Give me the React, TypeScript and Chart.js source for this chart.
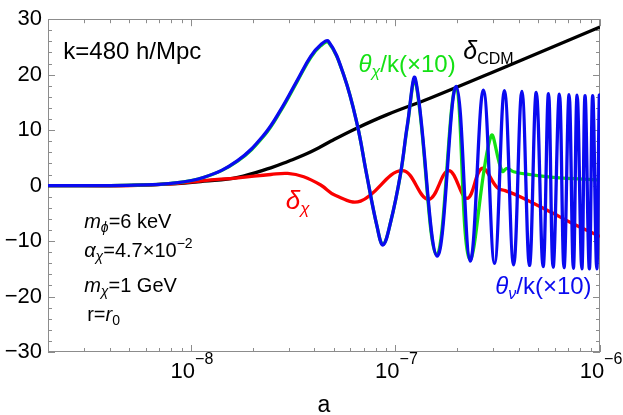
import React, { useEffect, useRef } from "react";
import { Chart, registerables } from "chart.js";
Chart.register(...registerables);

// theta_nu / k (x10)  -- blue
const aBlue = [
  2e-9, 3.64e-9, 5.27e-9, 7.99e-9, 1.16e-8, 1.69e-8, 2.28e-8, 2.75e-8, 3.31e-8, 3.85e-8,
  4.31e-8, 4.71e-8, 5.6e-8, 6.5e-8, 7.22e-8, 8.14e-8, 8.69e-8, 9.45e-8, 1.058e-7, 1.144e-7, 1.252e-7,
  1.6e-7, 1.98e-7, 2.32e-7, 2.69e-7, 3.05e-7, 3.41e-7, 3.78e-7, 4.15e-7, 4.52e-7, 4.88e-7,
  5.27e-7, 5.6e-7, 5.9e-7, 6.33e-7, 6.67e-7, 7.06e-7, 7.41e-7, 7.73e-7, 8.15e-7, 8.45e-7,
  8.87e-7, 9.21e-7, 9.64e-7, 9.92e-7, 1e-6,
];
const thetaNu = [
  0, 0, 0.1, 0.4, 1.5, 4.5, 9.2, 13.7, 19.0, 23.3,
  25.4, 26.0, 19.8, 11, 2.1, -7.5, -10.7, -6.7, 2.1, 11, 19.2,
  -12.7, 17.9, -13.6, 17.2, -14.0, 17.1, -14.3, 17.0, -14.4, 16.8,
  -14.6, 16.6, -14.7, 16.5, -14.8, 16.4, -14.9, 16.3, -15.0, 16.2,
  -15.0, 16.2, -15.0, 16.1, 12.5,
];

// theta_chi / k (x10)  -- green
const aGreen = [
  2e-9, 3.64e-9, 5.27e-9, 7.99e-9, 1.16e-8, 1.69e-8, 2.28e-8, 2.75e-8, 3.31e-8, 3.85e-8,
  4.31e-8, 4.71e-8, 5.6e-8, 6.5e-8, 7.22e-8, 8.14e-8, 8.69e-8, 9.45e-8, 1.058e-7, 1.144e-7, 1.252e-7,
  1.59e-7, 1.97e-7, 2.3e-7, 2.93e-7, 3.32e-7, 3.52e-7, 3.78e-7, 4.73e-7, 5.9e-7, 1e-6,
];
const thetaChi = [
  0, 0, 0.1, 0.4, 1.5, 4.4, 9.0, 13.5, 18.8, 23.1,
  25.2, 25.8, 19.8, 11, 2.1, -7.5, -10.6, -6.7, 2.0, 10.8, 18.9,
  -12.5, 17.6, -13.2, 8.9, 2.6, 3.1, 2.5, 1.9, 1.5, 1.0,
];

// delta_chi  -- red
const aRed = [
  2e-9, 5.1e-9, 7.99e-9, 1.157e-8, 1.695e-8, 2.456e-8, 2.97e-8, 3.56e-8, 4.31e-8, 5.1e-8,
  6.75e-8, 1.078e-7, 1.449e-7, 1.82e-7, 2.24e-7, 2.65e-7, 3.15e-7, 3.44e-7, 4.07e-7, 5.9e-7,
  7.14e-7, 1e-6,
];
const deltaChi = [
  0, 0, 0.3, 0.9, 1.4, 2.0, 2.2, 1.6, 0.1, -1.8,
  -2.8, 2.7, -2.5, 2.7, -2.3, 3.1, -0.4, -0.9, -2.0, -5.0,
  -6.6, -9.2,
];

// delta_CDM  -- black
const aBlack = [
  2e-9, 5.1e-9, 7.99e-9, 1.157e-8, 1.695e-8, 2.456e-8, 3.0e-8, 3.56e-8, 4.31e-8, 4.82e-8,
  6.5e-8, 9.11e-8, 1.483e-7, 3.44e-7, 1e-6,
];
const deltaCDM = [
  0, 0.05, 0.3, 0.8, 1.5, 3.2, 4.4, 5.5, 7.0, 8.0,
  10.4, 12.8, 15.8, 21.4, 28.6,
];

const xMajorTicks = [1e-8, 1e-7, 1e-6];
const xTickBase = ["10", "10", "10"];
const xTickExp = ["−8", "−7", "−6"];
const xMinorTicks = [
  2e-9, 3e-9, 4e-9, 5e-9, 6e-9, 7e-9, 8e-9, 9e-9,
  2e-8, 3e-8, 4e-8, 5e-8, 6e-8, 7e-8, 8e-8, 9e-8,
  2e-7, 3e-7, 4e-7, 5e-7, 6e-7, 7e-7, 8e-7, 9e-7,
];
const yMajorTicks = [-30, -20, -10, 0, 10, 20, 30];
const yTickLabels = ["−30", "−20", "−10", "0", "10", "20", "30"];
const yMinorTicks = [
  -28, -26, -24, -22, -18, -16, -14, -12, -8, -6, -4, -2,
  2, 4, 6, 8, 12, 14, 16, 18, 22, 24, 26, 28,
];
const xTitle = "a";

const FONT = "'Liberation Sans', Arial, sans-serif";
const BLUE = "rgb(10,10,240)";
const GREEN = "rgb(20,225,20)";
const RED = "rgb(250,0,0)";
const BLACK = "rgb(0,0,0)";
const FRAME = "rgb(140,140,140)";

type Seg = { t: string; size: number; italic?: boolean; dy?: number };
type Label = { a: number; v: number; color: string; segs: Seg[] };

const labels: Label[] = [
  { a: 2.375e-9, v: 22.9, color: BLACK, segs: [{ t: "k=480 h/Mpc", size: 24 }] },
  {
    a: 3.006e-9, v: -7.6, color: BLACK,
    segs: [{ t: "m", size: 20, italic: true }, { t: "ϕ", size: 14, italic: true, dy: 4 }, { t: "=6 keV", size: 20 }],
  },
  {
    a: 3.006e-9, v: -12.9, color: BLACK,
    segs: [
      { t: "α", size: 20, italic: true }, { t: "χ", size: 14, italic: true, dy: 4 },
      { t: "=4.7×10", size: 20 }, { t: "−2", size: 14, dy: -9 },
    ],
  },
  {
    a: 3.006e-9, v: -19.2, color: BLACK,
    segs: [{ t: "m", size: 20, italic: true }, { t: "χ", size: 14, italic: true, dy: 4 }, { t: "=1 GeV", size: 20 }],
  },
  {
    a: 3.11e-9, v: -24.5, color: BLACK,
    segs: [{ t: "r=", size: 20 }, { t: "r", size: 20, italic: true }, { t: "0", size: 14, dy: 4 }],
  },
  {
    a: 6.6e-8, v: 20.5, color: GREEN,
    segs: [{ t: "θ", size: 24, italic: true }, { t: "χ", size: 16, italic: true, dy: 5 }, { t: "/k(×10)", size: 24 }],
  },
  {
    a: 2.146e-7, v: 22.8, color: BLACK,
    segs: [{ t: "δ", size: 25, italic: true }, { t: "CDM", size: 16, dy: 5 }],
  },
  {
    a: 2.906e-8, v: -4.2, color: RED,
    segs: [{ t: "δ", size: 26, italic: true }, { t: "χ", size: 17, italic: true, dy: 5 }],
  },
  {
    a: 3.074e-7, v: -19.6, color: BLUE,
    segs: [{ t: "θ", size: 24, italic: true }, { t: "ν", size: 16, italic: true, dy: 5 }, { t: "/k(×10)", size: 24 }],
  },
];

const framePlugin = {
  id: "frameTicks",
  beforeDatasetsDraw(chart: any) {
    const { ctx, chartArea, scales } = chart;
    const { left, right, top, bottom } = chartArea;
    const xs = scales.x, ys = scales.y;
    ctx.save();
    ctx.strokeStyle = FRAME;
    ctx.lineWidth = 1;
    ctx.strokeRect(Math.round(left) + 0.5, Math.round(top) + 0.5, Math.round(right - left) - 1, Math.round(bottom - top) - 1);
    ctx.beginPath();
    const xt = (v: number, len: number) => {
      const px = Math.round(xs.getPixelForValue(v)) + 0.5;
      ctx.moveTo(px, bottom); ctx.lineTo(px, bottom - len);
      ctx.moveTo(px, top); ctx.lineTo(px, top + len);
    };
    const yt = (v: number, len: number) => {
      const py = Math.round(ys.getPixelForValue(v)) + 0.5;
      ctx.moveTo(left, py); ctx.lineTo(left + len, py);
      ctx.moveTo(right, py); ctx.lineTo(right - len, py);
    };
    xMajorTicks.forEach((v) => xt(v, 7));
    xMinorTicks.forEach((v) => xt(v, 4));
    yMajorTicks.forEach((v) => yt(v, 7));
    yMinorTicks.forEach((v) => yt(v, 4));
    ctx.stroke();

    // x tick labels: 10 with superscript exponent
    ctx.fillStyle = "#000";
    ctx.textBaseline = "alphabetic";
    ctx.textAlign = "left";
    xMajorTicks.forEach((v, i) => {
      const px = xs.getPixelForValue(v);
      ctx.font = `22px ${FONT}`;
      const wb = ctx.measureText(xTickBase[i]).width;
      ctx.font = `16px ${FONT}`;
      const we = ctx.measureText(xTickExp[i]).width;
      const x0 = px - (wb + we) / 2 + 1;
      ctx.font = `22px ${FONT}`;
      ctx.fillText(xTickBase[i], x0, bottom + 26);
      ctx.font = `16px ${FONT}`;
      ctx.fillText(xTickExp[i], x0 + wb, bottom + 12);
    });
    ctx.restore();
  },
  afterDatasetsDraw(chart: any) {
    const { ctx, scales } = chart;
    ctx.save();
    ctx.textBaseline = "alphabetic";
    ctx.textAlign = "left";
    labels.forEach((lb) => {
      let x = scales.x.getPixelForValue(lb.a);
      const y = scales.y.getPixelForValue(lb.v);
      ctx.fillStyle = lb.color;
      lb.segs.forEach((s) => {
        ctx.font = `${s.italic ? "italic " : ""}${s.size}px ${FONT}`;
        ctx.fillText(s.t, x, y + (s.dy || 0));
        x += ctx.measureText(s.t).width;
      });
    });
    ctx.restore();
  },
};

export default function App() {
  const ref = useRef<HTMLCanvasElement>(null);
  useEffect(() => {
    if (!ref.current) return;
    const mk = (xs: number[], ys: number[]) => xs.map((x, i) => ({ x, y: ys[i] }));
    const ds = (data: any, color: string) => ({
      data,
      borderColor: color,
      borderWidth: 3.3,
      pointRadius: 0,
      fill: false,
      tension: 0.4,
    });
    const chart = new Chart(ref.current, {
      type: "line",
      data: {
        datasets: [
          ds(mk(aBlue, thetaNu), BLUE),
          ds(mk(aGreen, thetaChi), GREEN),
          ds(mk(aRed, deltaChi), RED),
          ds(mk(aBlack, deltaCDM), BLACK),
        ],
      },
      options: {
        animation: false,
        responsive: false,
        devicePixelRatio: 1,
        parsing: false,
        layout: { padding: { left: 0, top: 12, right: 23, bottom: 0 } },
        plugins: { legend: { display: false }, tooltip: { enabled: false } },
        scales: {
          x: {
            type: "logarithmic",
            min: 2e-9,
            max: 1e-6,
            afterBuildTicks: (s: any) => { s.ticks = xMajorTicks.map((v) => ({ value: v })); },
            afterFit: (s: any) => { s.height = 63; },
            grid: { display: false, drawTicks: false },
            border: { display: false },
            ticks: { display: false },
            title: { display: true, text: xTitle, color: "#000", font: { size: 23, family: FONT, lineHeight: 0.83 }, padding: { top: 0, bottom: 0 } },
          },
          y: {
            type: "linear",
            min: -30,
            max: 30,
            afterBuildTicks: (s: any) => { s.ticks = yMajorTicks.map((v) => ({ value: v })); },
            afterFit: (s: any) => { s.width = 48; },
            grid: { display: false, drawTicks: false },
            border: { display: false },
            ticks: {
              padding: 6,
              color: "#000",
              font: { size: 22, family: FONT },
              callback: (v: any) => {
                const i = yMajorTicks.indexOf(v);
                return i >= 0 ? yTickLabels[i] : "";
              },
            },
          },
        },
      },
      plugins: [framePlugin],
    });
    return () => chart.destroy();
  }, []);
  return (
    <div style={{ position: "fixed", left: 0, top: 0, width: 623, height: 415, background: "#fff" }}>
      <canvas ref={ref} width={623} height={415} style={{ width: 623, height: 415 }} />
    </div>
  );
}
